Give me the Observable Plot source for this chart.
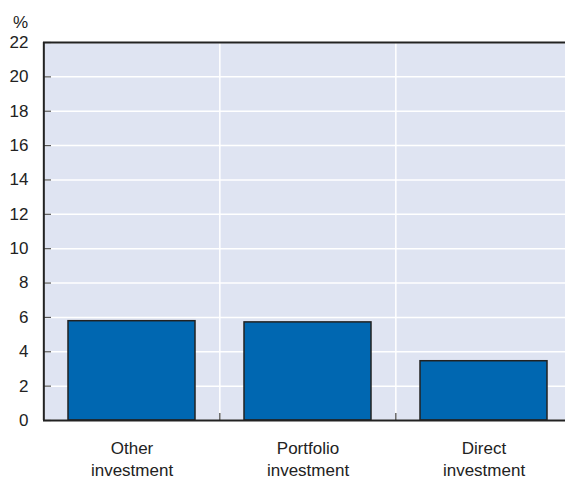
<!DOCTYPE html>
<html>
<head>
<meta charset="utf-8">
<script src="https://cdn.jsdelivr.net/npm/d3@7"></script>
<script src="https://cdn.jsdelivr.net/npm/@observablehq/plot@0.6"></script>
<style>
  html, body { margin: 0; padding: 0; background: #fff; }
</style>
</head>
<body>
<div id="chart"></div>
<script>
// Data
const categories = ["Other\ninvestment", "Portfolio\ninvestment", "Direct\ninvestment"];
const values = [5.78, 5.71, 3.45];
const yTicks = [0, 2, 4, 6, 8, 10, 12, 14, 16, 18, 20, 22];
const unitLabel = "%";

const data = categories.map((c, i) => ({category: c, value: values[i]}));

// Layout
const W = 565, H = 479;
const mLeft = 43, mTop = 42, mBottom = 59;
const xRange = [mLeft, 572];
const step = (xRange[1] - xRange[0]) / categories.length;
const bg = "#dfe4f2";
const dark = "#222";
const barFill = "#0067b1";
const font = "'Liberation Sans', Arial, sans-serif";

const chart = Plot.plot({
  width: W,
  height: H,
  marginLeft: mLeft,
  marginRight: 0,
  marginTop: mTop,
  marginBottom: mBottom,
  style: {fontFamily: font, fontSize: "17px", color: dark, background: "#fff", overflow: "visible"},
  x: {type: "band", domain: categories, range: xRange, paddingInner: 0.28, paddingOuter: 0.14, align: 0.5, axis: null, label: null},
  y: {domain: [0, 22], axis: null, label: null},
  marks: [
    Plot.frame({fill: bg, stroke: null}),
    Plot.gridY(yTicks, {stroke: "white", strokeOpacity: 1, strokeWidth: 1.5}),
    Plot.ruleX(categories.slice(1), {x: d => d, dx: -step / 2, stroke: "white", strokeWidth: 1.5}),
    Plot.barY(data, {x: "category", y: "value", fill: barFill, stroke: dark, strokeWidth: 1.5}),
    Plot.ruleX(categories.slice(1), {x: d => d, dx: -step / 2, y1: 0, y2: 0, insetTop: -7, stroke: "#444", strokeWidth: 1.2}),
    Plot.axisY({ticks: yTicks, tickSize: -8, tickFormat: () => "", stroke: "#555", strokeWidth: 1.2, label: null}),
    Plot.ruleY([0], {stroke: dark, strokeWidth: 2.2}),
    Plot.ruleY([22], {stroke: dark, strokeWidth: 2}),
    Plot.ruleX([categories[0]], {x: d => d, dx: -step / 2, stroke: dark, strokeWidth: 2}),
    Plot.axisY({ticks: yTicks, tickSize: 0, tickPadding: 15, fontSize: 17, fill: dark, label: null}),
    Plot.axisX({tickSize: 0, tickPadding: 17, fontSize: 17, lineHeight: 1.33, fill: dark, label: null}),
    Plot.text([unitLabel], {frameAnchor: "top-left", dx: -23, dy: -15, lineAnchor: "bottom", textAnchor: "middle", fontSize: 17, fill: dark})
  ]
});

document.getElementById("chart").appendChild(chart);
</script>
</body>
</html>
